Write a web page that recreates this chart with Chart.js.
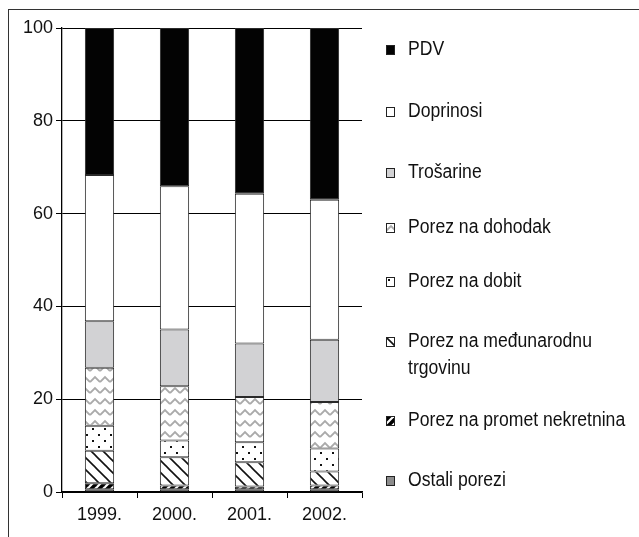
<!DOCTYPE html>
<html><head><meta charset="utf-8">
<script src="https://cdn.jsdelivr.net/npm/chart.js@4/dist/chart.umd.min.js"></script>
<style>
html,body{margin:0;padding:0;background:#fff;}
#wrap{position:relative;width:639px;height:537px;overflow:hidden;}
#frame{position:absolute;left:8px;top:9px;width:640px;height:540px;border-left:1.5px solid #333;border-top:1.5px solid #333;}
#c{position:absolute;left:0;top:0;}
#legend{position:absolute;left:0;top:0;width:639px;height:537px;font-family:"Liberation Sans Narrow","Arial Narrow","Liberation Sans",Arial,sans-serif;font-size:20px;color:#111;}
.item{position:absolute;left:386px;}
.item canvas{position:absolute;left:0;}
.item span{position:absolute;left:22px;white-space:nowrap;line-height:27px;transform:scaleX(0.88);transform-origin:0 50%;}
</style></head>
<body><div id="wrap"><div id="frame"></div><canvas id="c" width="372" height="537"></canvas><div id="legend"></div></div>
<script>
const categories = ["1999.", "2000.", "2001.", "2002."];
const seriesNames = ["Ostali porezi", "Porez na promet nekretnina", "Porez na međunarodnu trgovinu", "Porez na dobit", "Porez na dohodak", "Trošarine", "Doprinosi", "PDV"];
const ostali     = [0.6, 0.6, 0.6, 0.6];
const promet     = [1.3, 0.8, 0.6, 0.8];
const medjunar   = [7.0, 6.1, 5.2, 3.0];
const dobit      = [5.4, 3.6, 4.3, 5.0];
const dohodak    = [12.5, 11.7, 9.8, 10.0];
const trosarine  = [10.0, 12.2, 11.5, 13.4];
const doprinosi  = [31.5, 30.9, 32.3, 30.2];
const pdv        = [31.7, 34.1, 35.7, 37.0];
const yTicks = [0, 20, 40, 60, 80, 100];

const FONT = '"Liberation Sans Narrow","Arial Narrow","Liberation Sans",Arial,sans-serif';

function tile(w, h, draw) {
  const c = document.createElement('canvas'); c.width = w; c.height = h;
  const g = c.getContext('2d'); draw(g, w, h);
  return c;
}
const fills = {
  ostali: () => '#8c8c8c',
  promet: (g) => g.createPattern(tile(8, 8, (t, w, h) => {
    t.fillStyle = '#000'; t.fillRect(0, 0, w, h);
    t.strokeStyle = '#fff'; t.lineWidth = 2.2;
    for (let k = -1; k <= 1; k++) { t.beginPath(); t.moveTo(k * 8 - 1, h + 1); t.lineTo(k * 8 + 9, -1); t.stroke(); }
  }), 'repeat'),
  medj: (g) => g.createPattern(tile(12, 12, (t, w, h) => {
    t.fillStyle = '#fff'; t.fillRect(0, 0, w, h);
    t.strokeStyle = '#111'; t.lineWidth = 1.6;
    for (let k = -1; k <= 1; k++) { t.beginPath(); t.moveTo(k * 12 - 1, -1); t.lineTo(k * 12 + 13, h + 1); t.stroke(); }
  }), 'repeat'),
  dobit: (g) => g.createPattern(tile(12, 12, (t, w, h) => {
    t.fillStyle = '#fff'; t.fillRect(0, 0, w, h);
    t.fillStyle = '#111';
    t.fillRect(2, 2, 2, 2); t.fillRect(8, 8, 2, 2);
  }), 'repeat'),
  dohodak: (g) => g.createPattern(tile(10, 11, (t, w, h) => {
    t.fillStyle = '#fff'; t.fillRect(0, 0, w, h);
    t.strokeStyle = '#aaaaaa'; t.lineWidth = 1.8;
    t.beginPath(); t.moveTo(0, 8); t.lineTo(5, 3); t.lineTo(10, 8); t.stroke();
  }), 'repeat'),
  trosarine: () => '#d2d2d4',
  doprinosi: () => '#ffffff',
  pdv: () => '#030303'
};
const ctx = document.getElementById('c').getContext('2d');
const seriesData = [ostali, promet, medjunar, dobit, dohodak, trosarine, doprinosi, pdv];
const fillKeys = ['ostali', 'promet', 'medj', 'dobit', 'dohodak', 'trosarine', 'doprinosi', 'pdv'];

const datasets = seriesNames.map((name, i) => ({
  label: name,
  data: seriesData[i],
  backgroundColor: fills[fillKeys[i]](ctx),
  borderColor: '#2a2a2a',
  borderWidth: 1,
  borderSkipped: false,
  barPercentage: 0.39,
  categoryPercentage: 1.0
}));

const chart = new Chart(ctx, {
  type: 'bar',
  data: { labels: categories, datasets },
  options: {
    responsive: false,
    animation: false,
    devicePixelRatio: 1,
    layout: { padding: { top: 28, right: 10, left: 0, bottom: 0 } },
    plugins: { legend: { display: false }, tooltip: { enabled: false } },
    scales: {
      x: {
        stacked: true,
        grid: { offset: true, drawOnChartArea: false, drawTicks: true, tickLength: 6, color: '#000', lineWidth: 1 },
        border: { color: '#000', width: 1.3 },
        ticks: { color: '#111', font: { family: FONT, size: 18 }, padding: 6 },
        afterFit: s => { s.height = 45; }
      },
      y: {
        stacked: true,
        min: 0, max: 100,
        afterBuildTicks: s => { s.ticks = yTicks.map(v => ({ value: v })); },
        grid: { color: '#000', lineWidth: 1, tickLength: 6 },
        border: { color: '#000', width: 1.3 },
        ticks: { color: '#111', font: { family: FONT, size: 18 }, padding: 3 },
        afterFit: s => { s.width = 62; }
      }
    }
  }
});

// legend built from the datasets (top of stack first)
const legend = document.getElementById('legend');
const legendTops = [35, 97, 158, 213, 267, 327, 406, 466];
const legendText = {"Porez na međunarodnu trgovinu": "Porez na međunarodnu<br>trgovinu"};
const order = datasets.slice().reverse();
order.forEach((ds, i) => {
  const it = document.createElement('div'); it.className = 'item';
  it.style.top = legendTops[i] + 'px';
  const bc = document.createElement('canvas'); bc.width = 9; bc.height = 10;
  bc.style.top = '10px';
  const g = bc.getContext('2d');
  g.fillStyle = ds.backgroundColor; g.fillRect(0, 0, 9, 10);
  g.strokeStyle = '#222'; g.lineWidth = 1; g.strokeRect(0.5, 0.5, 8, 9);
  const sp = document.createElement('span'); sp.innerHTML = legendText[ds.label] || ds.label;
  it.appendChild(bc); it.appendChild(sp); legend.appendChild(it);
});
</script></body></html>
